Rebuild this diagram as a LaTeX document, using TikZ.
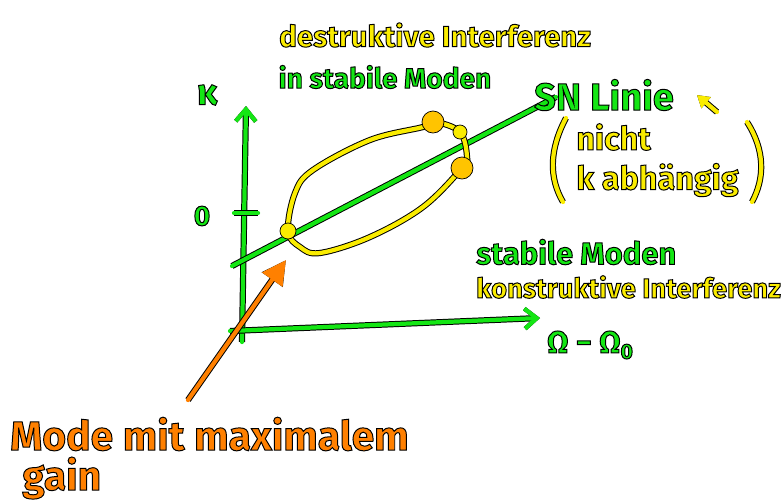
\documentclass[tikz,border=0pt]{standalone}
\usepackage{fontspec}
\setmainfont{Fira Sans}
\usetikzlibrary{arrows.meta, positioning, calc}
\definecolor{penGreen}{RGB}{20,230,20}
\definecolor{penYellow}{RGB}{250,236,0}
\definecolor{penGold}{RGB}{255,196,0}
\definecolor{penOrange}{RGB}{255,128,0}
% black rim round the pen strokes of a text
\newcommand{\outl}[1]{\special{pdf:literal direct 2 Tr 0.7 w 0 G}#1\special{pdf:literal direct 0 Tr}}
\tikzset{
  gstroke/.style={draw=penGreen, line width=3pt, line cap=round, line join=round, preaction={draw=black, line width=4.4pt}},
  ystroke/.style={draw=penYellow, line width=3pt, line cap=round, line join=round, preaction={draw=black, line width=4.4pt}},
  ostroke/.style={draw=penOrange, line width=3pt, line cap=round, line join=round, preaction={draw=black, line width=4.4pt}},
  dotY/.style={circle, fill=penYellow, draw=black, line width=0.5pt, inner sep=0pt},
  dotG/.style={circle, fill=penGold, draw=black, line width=0.5pt, inner sep=0pt, minimum size=0.55cm},
  gtext/.style={text=penGreen, inner sep=0pt, font=\bfseries\fontsize{20}{24}\selectfont},
  ytext/.style={text=penYellow, inner sep=0pt, font=\bfseries\fontsize{21}{24}\selectfont},
  otext/.style={text=penOrange, inner sep=0pt, font=\bfseries\fontsize{29}{34}\selectfont},
  axis/.style={gstroke, -{Straight Barb[length=3mm, width=5mm, line width=3pt]}},
}
\begin{document}
\begin{tikzpicture}[x=0.025cm, y=-0.025cm]
\useasboundingbox (0,0) rectangle (784,502);
% axes
\coordinate (ybot) at (242,342);
\coordinate (ytop) at (246,106);
\coordinate (xbeg) at (230,331);
\coordinate (xend) at (540,318);
\draw[axis] (ybot) -- (ytop);
\draw[axis] (xbeg) -- (xend);
\coordinate (tickL) at (234,213);
\coordinate (tickR) at (258,213);
\draw[gstroke] (tickL) -- (tickR);
\node (zero) [gtext] at (202,216) {\outl{0}};
\node (ylab) [gtext, font=\bfseries\fontsize{26}{30}\selectfont] at (207,95) {\outl{κ}};
\node (xlab) [gtext, font=\bfseries\fontsize{22}{26}\selectfont] at (590,345) {\outl{Ω − Ω\raisebox{-0.35ex}{\fontsize{15}{16}\selectfont 0}}};
% SN line and loop
\coordinate (snA) at (232,266);
\coordinate (snB) at (556,97);
\draw[gstroke] (snA) -- (snB);
\draw[ystroke] plot[smooth cycle, tension=0.6] coordinates {(288,231) (295,193) (313,170) (370,140) (423,127) (435,122) (460,132) (467,157) (462,168) (423,207) (370,237) (320,253) (300,247)};
\node (cusp) [dotY, minimum size=0.4cm] at (288,231) {};
\node (mid) [dotY, minimum size=0.35cm] at (460,132) {};
\node (upper) [dotG] at (433,122) {};
\node (lower) [dotG] at (462,168) {};
% labels
\node (destr) [ytext] at (435,35) {\outl{destruktive Interferenz}};
\node (instab) [gtext] at (385,77) {\outl{in stabile Moden}};
\node (snlab) [gtext, font=\bfseries\fontsize{27}{30}\selectfont] at (604,95) {\outl{SN Linie}};
\coordinate (hintA) at (717,112);
\coordinate (hintB) at (697,95);
\draw[ystroke, -{Triangle[length=3mm, width=3.5mm]}] (hintA) -- (hintB);
\node (nicht) [ytext, anchor=west, font=\bfseries\fontsize{23}{26}\selectfont] at (576,137) {\outl{nicht}};
\node (kabh) [ytext, anchor=west, font=\bfseries\fontsize{23}{26}\selectfont] at (576,180) {\outl{k abhängig}};
\draw[ystroke] (566,118) .. controls (549,150) and (549,178) .. (563,202);
\draw[ystroke] (747,122) .. controls (765,150) and (765,178) .. (752,202);
\node (stab) [gtext, anchor=west, font=\bfseries\fontsize{22}{26}\selectfont] at (476,252) {\outl{stabile Moden}};
\node (konst) [ytext, anchor=west, font=\bfseries\fontsize{19.5}{24}\selectfont] at (476,287) {\outl{konstruktive Interferenz}};
% maximum gain mode
\node (mode) [otext, anchor=west] at (10,434) {\outl{Mode mit maximalem}};
\node (gain) [otext, anchor=west] at (22,478) {\outl{gain}};
\coordinate (ptrA) at (188,400);
\coordinate (ptrB) at (286,260);
\draw[ostroke, -{Triangle[length=6mm, width=6mm]}] (ptrA) -- (ptrB);
\end{tikzpicture}
\end{document}
